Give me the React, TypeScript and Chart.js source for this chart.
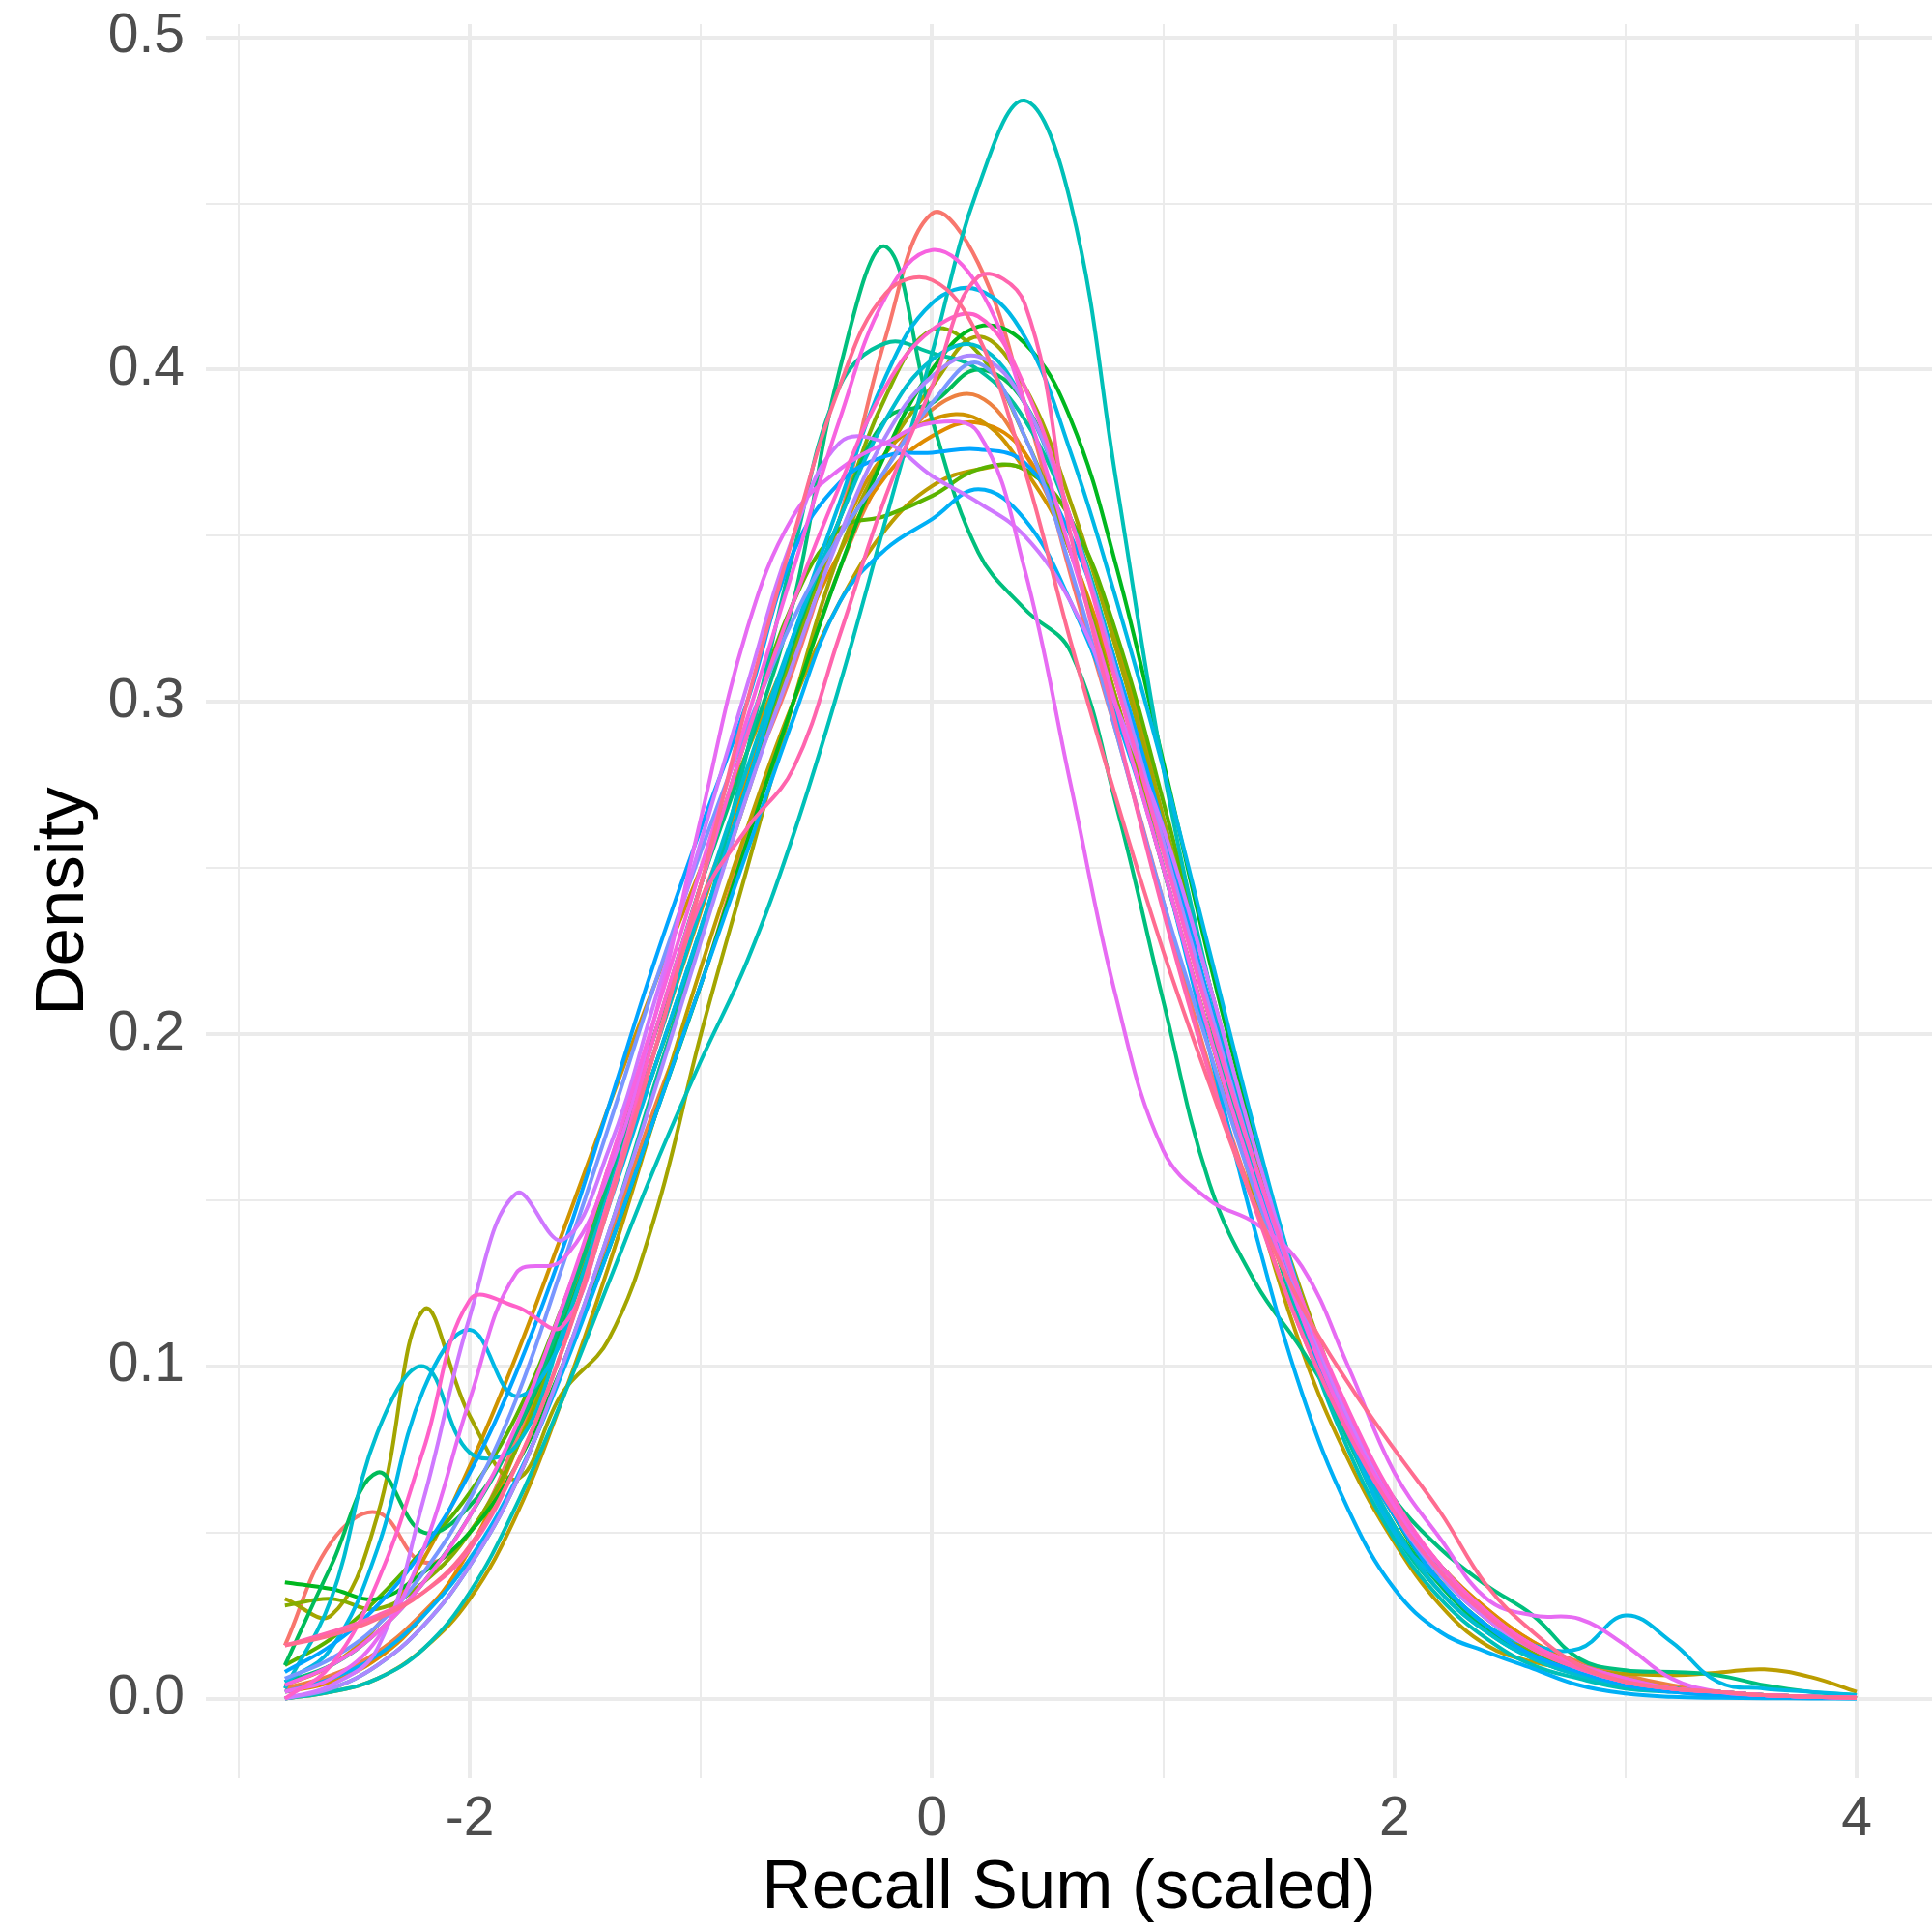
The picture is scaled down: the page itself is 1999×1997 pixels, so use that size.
import React, { useEffect, useRef } from "react";
import { Chart, registerables } from "chart.js";

Chart.register(...registerables);

// Shared x grid of the density estimates (Recall Sum, scaled)
const xGrid = [-2.8, -2.6, -2.4, -2.2, -2.0, -1.8, -1.6, -1.4, -1.2, -1.0, -0.8, -0.6, -0.4, -0.2, 0.0, 0.2, 0.4, 0.6, 0.8, 1.0, 1.2, 1.4, 1.6, 1.8, 2.0, 2.2, 2.4, 2.6, 2.8, 3.0, 3.2, 3.4, 3.6, 3.8, 4.0];

const s00 = [.016, .047, .056, .041, .05, .078, .115, .16, .2, .24, .275, .31, .355, .41, .447, .432, .39, .338, .29, .24, .19, .148, .11, .08, .056, .04, .026, .016, .01, .006, .003, .002, .001, .0005, .0002];
const s01 = [.003, .007, .014, .026, .042, .065, .1, .138, .178, .215, .26, .3, .34, .37, .388, .392, .375, .345, .30, .255, .205, .158, .116, .082, .057, .04, .027, .017, .011, .007, .004, .002, .001, .0005, .0002];
const s02 = [.002, .005, .012, .025, .045, .075, .112, .152, .195, .237, .278, .315, .345, .368, .38, .384, .375, .345, .305, .258, .208, .162, .12, .085, .058, .04, .027, .017, .01, .006, .003, .002, .001, .0005, .0002];
const s03 = [.004, .01, .022, .042, .07, .103, .14, .178, .215, .25, .285, .318, .35, .375, .385, .385, .37, .345, .30, .25, .2, .153, .113, .08, .055, .037, .024, .015, .009, .005, .003, .002, .001, .0005, .0002];
const s04 = [0, .002, .006, .015, .03, .055, .09, .13, .175, .22, .262, .3, .33, .352, .365, .37, .37, .355, .318, .265, .205, .15, .105, .072, .047, .028, .016, .011, .0085, .0075, .007, .0078, .0088, .0065, .002];
const s05 = [.03, .025, .055, .117, .085, .066, .092, .108, .145, .2, .25, .3, .345, .375, .395, .41, .395, .36, .315, .265, .215, .165, .122, .085, .055, .035, .022, .014, .009, .005, .003, .002, .001, .0005, .0002];
const s06 = [.028, .03, .027, .035, .05, .075, .11, .15, .19, .23, .272, .315, .355, .392, .412, .405, .38, .345, .30, .25, .2, .155, .115, .082, .058, .04, .025, .014, .008, .005, .003, .002, .001, .0005, .0002];
const s07 = [.01, .018, .03, .045, .062, .085, .118, .158, .2, .245, .29, .33, .352, .356, .362, .37, .37, .355, .32, .27, .215, .165, .12, .085, .058, .038, .024, .015, .009, .005, .003, .002, .001, .0005, .0002];
const s08 = [.035, .033, .03, .038, .05, .07, .1, .135, .175, .215, .258, .3, .34, .375, .4, .413, .408, .385, .34, .282, .222, .168, .12, .083, .055, .035, .022, .013, .008, .005, .003, .002, .001, .0005, .0002];
const s09 = [.01, .04, .068, .05, .058, .08, .112, .15, .19, .232, .275, .318, .355, .385, .39, .4, .39, .355, .31, .258, .205, .155, .112, .078, .052, .034, .021, .013, .008, .004, .003, .002, .001, .0005, .0002];
const s10 = [.005, .01, .02, .035, .055, .08, .115, .155, .2, .245, .285, .33, .40, .437, .385, .345, .328, .315, .268, .21, .155, .125, .105, .082, .06, .045, .034, .025, .012, .0085, .008, .007, .004, .002, .001];
const s11 = [0, .003, .01, .022, .04, .065, .1, .14, .185, .23, .285, .345, .395, .408, .405, .40, .385, .355, .31, .258, .205, .155, .112, .078, .05, .032, .02, .012, .007, .004, .003, .002, .001, .0005, .0002];
const s12 = [0, .002, .006, .015, .032, .058, .09, .125, .16, .192, .222, .26, .305, .355, .405, .455, .481, .45, .365, .28, .215, .16, .112, .075, .048, .03, .018, .01, .006, .003, .002, .001, .0005, .0002, .0001];
const s13 = [.003, .03, .08, .1, .074, .076, .11, .152, .195, .238, .28, .32, .355, .385, .403, .407, .39, .355, .31, .26, .208, .158, .115, .08, .052, .032, .02, .012, .007, .004, .003, .002, .001, .0005, .0002];
const s14 = [.005, .015, .045, .093, .111, .091, .108, .148, .19, .232, .275, .32, .36, .398, .42, .424, .41, .375, .33, .28, .225, .17, .12, .08, .05, .035, .022, .016, .015, .025, .017, .005, .003, .002, .001];
const s15 = [.002, .006, .013, .025, .042, .066, .098, .135, .175, .215, .255, .295, .33, .346, .355, .364, .355, .33, .295, .25, .195, .14, .092, .057, .033, .02, .014, .009, .004, .0015, .0005, .0002, .0001, 0, 0];
const s16 = [.008, .016, .028, .045, .068, .098, .135, .178, .222, .262, .3, .345, .366, .374, .375, .376, .372, .35, .31, .262, .21, .16, .115, .08, .055, .035, .022, .013, .008, .004, .002, .001, .0005, .0002, .0001];
const s17 = [.006, .012, .022, .038, .06, .09, .13, .172, .215, .255, .292, .325, .35, .37, .39, .402, .38, .34, .29, .24, .195, .152, .115, .082, .058, .04, .026, .016, .01, .006, .003, .002, .001, .0005, .0002];
const s18 = [0, .003, .01, .022, .04, .065, .1, .14, .183, .228, .272, .312, .35, .38, .398, .404, .39, .355, .308, .258, .208, .16, .118, .083, .056, .037, .024, .015, .009, .005, .003, .002, .001, .0005, .0002];
const s19 = [0, .004, .015, .06, .115, .152, .138, .165, .21, .258, .305, .35, .378, .378, .368, .36, .35, .33, .298, .262, .215, .165, .12, .085, .058, .038, .024, .015, .009, .005, .003, .002, .001, .0005, .0002];
const s20 = [.002, .006, .018, .045, .09, .128, .132, .158, .205, .265, .322, .356, .37, .378, .384, .381, .34, .275, .21, .165, .15, .143, .13, .1, .068, .048, .03, .025, .024, .016, .006, .002, .001, .0005, .0002];
const s21 = [.004, .01, .02, .035, .055, .082, .118, .16, .205, .25, .295, .34, .385, .422, .436, .425, .39, .345, .298, .25, .2, .155, .115, .082, .058, .04, .026, .016, .01, .006, .003, .002, .001, .0005, .0002];
const s22 = [0, .01, .035, .075, .12, .118, .112, .15, .2, .245, .29, .33, .365, .395, .412, .416, .395, .355, .305, .255, .205, .16, .12, .087, .06, .04, .026, .016, .01, .005, .003, .002, .001, .0005, .0002];
const s23 = [.016, .02, .025, .032, .045, .07, .105, .15, .195, .24, .262, .28, .32, .362, .395, .428, .42, .35, .292, .237, .188, .147, .11, .08, .056, .038, .025, .015, .009, .005, .003, .002, .001, .0005, .0002];
const s24 = [.016, .019, .024, .032, .046, .07, .105, .148, .195, .245, .3, .35, .395, .423, .427, .41, .37, .318, .27, .225, .185, .148, .118, .095, .075, .056, .034, .02, .01, .005, .003, .002, .001, .0005, .0002];

const seriesList = [s00, s01, s02, s03, s04, s05, s06, s07, s08, s09, s10, s11, s12, s13, s14, s15, s16, s17, s18, s19, s20, s21, s22, s23, s24];

const xTickValues = [-3, -2, -1, 0, 1, 2, 3, 4];
const xLabelValues = [-2, 0, 2, 4];
const yTickSteps = [0, 1, 2, 3, 4, 5, 6, 7, 8, 9, 10]; // in units of 0.05

// ggplot2 default hue palette (hcl, c = 100, l = 65)
function hueColor(h: number): string {
  const L = 65, C = 100;
  const hr = (h * Math.PI) / 180;
  const U = C * Math.cos(hr), V = C * Math.sin(hr);
  const Y = Math.pow((L + 16) / 116, 3);
  const Xn = 0.95047, Yn = 1, Zn = 1.08883;
  const den = Xn + 15 * Yn + 3 * Zn;
  const un = (4 * Xn) / den, vn = (9 * Yn) / den;
  const u = U / (13 * L) + un, v = V / (13 * L) + vn;
  const X = (Y * 9 * u) / (4 * v);
  const Z = (Y * (12 - 3 * u - 20 * v)) / (4 * v);
  const lin = [
    3.2404542 * X - 1.5371385 * Y - 0.4985314 * Z,
    -0.969266 * X + 1.8760108 * Y + 0.041556 * Z,
    0.0556434 * X - 0.2040259 * Y + 1.0572252 * Z,
  ];
  const g = lin.map((c) => {
    const cc = c <= 0.0031308 ? 12.92 * c : 1.055 * Math.pow(c, 1 / 2.4) - 0.055;
    return Math.round(Math.max(0, Math.min(1, cc)) * 255);
  });
  return `rgb(${g[0]},${g[1]},${g[2]})`;
}

const FONT = "'Liberation Sans', Arial, Helvetica, sans-serif";

export default function App() {
  const ref = useRef<HTMLCanvasElement | null>(null);

  useEffect(() => {
    if (!ref.current) return;
    const n = seriesList.length;
    const datasets = seriesList.map((s, i) => ({
      label: `g${i + 1}`,
      data: s.map((y, k) => ({ x: xGrid[k], y })),
      borderColor: hueColor(15 + (360 * i) / n),
      backgroundColor: hueColor(15 + (360 * i) / n),
      borderWidth: 4,
      pointRadius: 0,
      tension: 0.4,
      fill: false,
      order: n - i,
    }));

    const chart = new Chart(ref.current, {
      type: "line",
      data: { datasets },
      options: {
        animation: false,
        responsive: true,
        maintainAspectRatio: false,
        devicePixelRatio: 1,
        layout: { padding: { top: 25, left: 0, right: 0, bottom: 0 } },
        plugins: { legend: { display: false }, tooltip: { enabled: false } },
        scales: {
          x: {
            type: "linear",
            min: -3.142,
            max: 4.326,
            afterBuildTicks: (scale: any) => {
              scale.ticks = xTickValues.map((v) => ({ value: v }));
            },
            afterFit: (scale: any) => {
              scale.height = 157;
              scale.paddingLeft = 0;
              scale.paddingRight = 0;
            },
            ticks: {
              autoSkip: false,
              maxRotation: 0,
              padding: 9,
              color: "#4D4D4D",
              font: { family: FONT, size: 57 },
              callback: (v: any) => (xLabelValues.includes(Number(v)) ? String(v) : ""),
            },
            grid: {
              drawTicks: false,
              color: "#EBEBEB",
              lineWidth: (ctx: any) => (xLabelValues.includes(ctx.tick?.value) ? 4 : 2),
            },
            border: { display: false },
            title: {
              display: true,
              text: "Recall Sum (scaled)",
              color: "#000000",
              font: { family: FONT, size: 71 },
              padding: { top: 0, bottom: 0 },
            },
          },
          y: {
            type: "linear",
            min: -0.024,
            max: 0.504,
            afterBuildTicks: (scale: any) => {
              scale.ticks = yTickSteps.map((k) => ({ value: k * 0.05 }));
            },
            afterFit: (scale: any) => {
              scale.width = 213;
              scale.paddingTop = 0;
              scale.paddingBottom = 0;
            },
            ticks: {
              autoSkip: false,
              padding: 22,
              color: "#4D4D4D",
              font: { family: FONT, size: 57 },
              callback: (_v: any, index: number) =>
                index % 2 === 0 ? ((index / 2) * 0.1).toFixed(1) : "",
            },
            grid: {
              drawTicks: false,
              color: "#EBEBEB",
              lineWidth: (ctx: any) => (ctx.index % 2 === 0 ? 4 : 2),
            },
            border: { display: false },
            title: {
              display: true,
              text: "Density",
              color: "#000000",
              font: { family: FONT, size: 71 },
              padding: { top: 24, bottom: 0 },
            },
          },
        },
      },
    } as any);
    return () => chart.destroy();
  }, []);

  return (
    <div style={{ position: "fixed", left: 0, top: 0, width: 1999, height: 1997, background: "#ffffff" }}>
      <canvas ref={ref} />
    </div>
  );
}
